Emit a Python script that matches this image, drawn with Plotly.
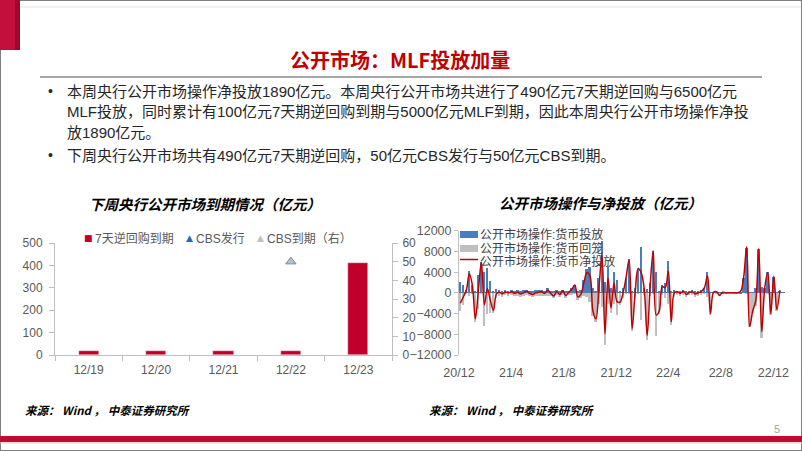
import plotly.graph_objects as go
import pandas as pd

W, H = 802, 451
def px(x): return x / W
def py(y): return 1 - y / H

FONT = "Liberation Sans, Noto Sans CJK SC, sans-serif"

# ---------------- left chart data ----------------
days = ["12/19", "12/20", "12/21", "12/22", "12/23"]
repo_maturity = [20, 20, 20, 20, 410]
cbs_issue_day = ["12/22"]
cbs_issue = [50]
cbs_mat_day = ["12/22"]
cbs_maturity = [50]

# ---------------- right chart data (weekly, 亿元) ----------------
week_start = "2020-12-04"
inject = [
    2100, 1500, 600, 4300, 1500, 500, 3500, 6000, 4000, 4800,
    2300, 500, 800, 600, 500, 600, 500, 600, 500, 600,
    500, 600, 600, 500, 500, 600, 600, 700, 500, 1000,
    500, 400, 600, 500, 700, 500, 500, 900, 1600, 500,
    600, 2500, 4700, 5000, 1000, 500, 3000, 10000, 2200, 5000,
    1000, 4000, 2500, 500, 1000, 3000, 6500, 500, 1000, 4700,
    9000, 1000, 800, 2000, 8200, 4000, 500, 1500, 2000, 6200,
    500, 700, 500, 500, 600, 500, 500, 600, 500, 500,
    600, 1000, 4000, 200, 200, 300, 100, 100, 100, 100,
    100, 100, 100, 300, 3000, 8800, 100, 300, 1000, 8500,
    1200, 1000, 4000, 300, 3200, 200, 500,
]
withdraw = [
    -3500, -2300, -100, -600, -100, -5500, -3000, -100, -6300, -4000,
    -3800, -3900, -1000, -500, -700, -450, -500, -400, -600, -500,
    -700, -600, -300, -600, -800, -600, -500, -500, -600, -500,
    -600, -1000, -400, -800, -300, -1000, -400, -200, -100, -1300,
    -900, -500, -800, -1700, -4500, -5500, -2000, -2700, -10100, -2100,
    -3900, -2100, -4200, -2300, -1000, -100, -100, -7400, -1000, -100,
    -5100, -200, -9000, -500, -100, -8300, -4000, -300, -1000, -2000,
    -6100, -700, -300, -600, -300, -800, -400, -400, -700, -500,
    -300, -100, -700, -4200, -100, -100, -600, 0, -100, -100,
    -100, -100, -100, 0, 0, -100, -6600, -3800, -2500, 0,
    -8700, 0, -100, -4300, 0, -3400, 0,
]
net = [
    -2000, -800, 500, 3700, 1500, -5000, 500, 5900, -2300, 800,
    -1500, -3400, -200, 100, -200, 150, 0, 200, -100, 100,
    -200, 0, 300, -100, -300, 0, 100, 200, -100, 500,
    -100, -600, 200, -300, 400, -500, 100, 700, 1500, -800,
    -300, 2000, 3900, 3300, -3500, -5000, 1000, 7300, -7900, 2900,
    -2900, 1900, -1700, -1800, 0, 3000, 6400, -6900, 0, 4700,
    3900, 800, -8200, 1500, 8100, -4300, -3500, 1200, 1000, 4200,
    -5600, 0, 200, -100, 300, -300, 100, 200, -200, 0,
    300, 1000, 3300, -4000, 100, 200, -500, 100, 0, 0,
    0, 0, 0, 300, 3000, 8900, -6500, -3500, -1500, 8500,
    -7500, 1000, 3900, -4000, 3200, -3200, 500,
]
dates = pd.date_range(week_start, periods=len(net), freq="7D")
right_tickvals = ["2020-12-01", "2021-04-01", "2021-08-01", "2021-12-01",
                  "2022-04-01", "2022-08-01", "2022-12-01"]
right_ticktext = ["20/12", "21/4", "21/8", "21/12", "22/4", "22/8", "22/12"]

BLUE = "#4A7EBB"
GRAY = "#BFBFBF"
RED = "#C00000"
CRIMSON = "#C0002A"

fig = go.Figure()

# left chart
fig.add_trace(go.Bar(x=days, y=repo_maturity, name="7天逆回购到期",
                     marker_color=CRIMSON, width=0.3, xaxis="x", yaxis="y",
                     showlegend=False))
fig.add_trace(go.Scatter(x=cbs_issue_day, y=cbs_issue, name="CBS发行", mode="markers",
                         marker=dict(symbol="triangle-up", size=9, color="#1F6FB5"),
                         xaxis="x", yaxis="y2", showlegend=False))
fig.add_trace(go.Scatter(x=cbs_mat_day, y=cbs_maturity, name="CBS到期（右）", mode="markers",
                         marker=dict(symbol="triangle-up", size=9, color="rgba(200,210,225,0.85)",
                                     line=dict(color="#8C8C8C", width=1)),
                         xaxis="x", yaxis="y2", showlegend=False))

# right chart
wk = 4.5 * 86400000
fig.add_trace(go.Bar(x=dates, y=inject, name="公开市场操作:货币投放", marker_color=BLUE,
                     marker_line_width=0, width=wk, xaxis="x3", yaxis="y3", showlegend=False))
fig.add_trace(go.Bar(x=dates, y=withdraw, name="公开市场操作:货币回笼", marker_color=GRAY,
                     marker_line_width=0, width=wk, xaxis="x3", yaxis="y3", showlegend=False))
fig.add_trace(go.Scatter(x=dates, y=net, name="公开市场操作:货币净投放", mode="lines",
                         line=dict(color=RED, width=1.5, shape="spline", smoothing=1),
                         xaxis="x3", yaxis="y3", showlegend=False))

axis_common = dict(showgrid=False, zeroline=False, showline=True, linecolor="#BFBFBF",
                   ticks="outside", tickcolor="#BFBFBF", ticklen=5, automargin=False,
                   tickfont=dict(family=FONT, size=12, color="#595959"))

fig.update_layout(
    width=W, height=H, autosize=False,
    margin=dict(l=0, r=0, t=0, b=0),
    paper_bgcolor="white", plot_bgcolor="rgba(0,0,0,0)",
    barmode="overlay", bargap=0,
    font=dict(family=FONT, color="#262626"),
    xaxis=dict(domain=[px(55), px(392)], type="category", range=[-0.5, 4.5],
               tickson="boundaries", anchor="y", ticklabelstandoff=4, **axis_common),
    yaxis=dict(domain=[py(355), py(243)], range=[0, 500], dtick=100, anchor="x",
               ticklabelstandoff=4, **axis_common),
    yaxis2=dict(overlaying="y", side="right", range=[0, 60], dtick=10, anchor="x",
                ticklabelstandoff=2, **axis_common),
    xaxis3=dict(domain=[px(459), px(785)], type="date",
                range=["2020-12-01", "2022-12-28"],
                tickmode="array", tickvals=right_tickvals, ticktext=right_ticktext,
                showgrid=False, zeroline=False, showline=False, ticks="outside",
                ticklen=6, tickcolor="rgba(0,0,0,0)", automargin=False,
                tickfont=dict(family=FONT, size=12.5, color="#595959"), anchor="y3"),
    yaxis3=dict(domain=[py(355), py(230.7)], range=[-12000, 12000], dtick=4000,
                tickformat="d", automargin=False,
                showgrid=False, zeroline=True, zerolinecolor="#6F6F6F", zerolinewidth=1,
                showline=True, linecolor="#BFBFBF", ticks="outside", tickcolor="#BFBFBF",
                ticklen=4, tickfont=dict(family=FONT, size=12.5, color="#595959"),
                anchor="x3"),
)

shapes = []
# slide frame
shapes.append(dict(type="rect", xref="paper", yref="paper", x0=0, x1=1, y0=0, y1=1,
                   line=dict(color="#7F7F7F", width=2), fillcolor="rgba(0,0,0,0)"))
shapes.append(dict(type="line", xref="paper", yref="paper", x0=px(20), x1=px(801),
                   y0=py(7), y1=py(7), line=dict(color="#E3E3E3", width=1)))
# red corner block
shapes.append(dict(type="rect", xref="paper", yref="paper", x0=0, x1=px(15), y0=py(50), y1=1,
                   line=dict(width=0), fillcolor="#C20F3C"))
shapes.append(dict(type="rect", xref="paper", yref="paper", x0=px(15), x1=px(20), y0=py(50), y1=1,
                   line=dict(width=0), fillcolor="#A0062A"))
# rule under title
shapes.append(dict(type="line", xref="paper", yref="paper", x0=px(40), x1=px(762),
                   y0=py(77), y1=py(77), line=dict(color="#A6A6A6", width=2)))
# bottom red band
shapes.append(dict(type="rect", xref="paper", yref="paper", x0=0, x1=1, y0=py(442), y1=py(436),
                   line=dict(width=0), fillcolor="#C00A30"))
shapes.append(dict(type="line", xref="paper", yref="paper", x0=0, x1=1, y0=py(443), y1=py(443),
                   line=dict(color="#F2C4CE", width=1)))
# right-chart legend swatches
shapes.append(dict(type="rect", xref="paper", yref="paper", x0=px(460), x1=px(478),
                   y0=py(238), y1=py(231), line=dict(width=0), fillcolor=BLUE))
shapes.append(dict(type="rect", xref="paper", yref="paper", x0=px(460), x1=px(478),
                   y0=py(252), y1=py(245), line=dict(width=0), fillcolor=GRAY))
shapes.append(dict(type="line", xref="paper", yref="paper", x0=px(460), x1=px(478),
                   y0=py(259.5), y1=py(259.5), line=dict(color=RED, width=1.5)))
fig.update_layout(shapes=shapes)

ann = []
def text(x, y, s, size, color="#262626", xanchor="left", family=FONT):
    ann.append(dict(x=px(x), y=py(y), xref="paper", yref="paper", text=s, showarrow=False,
                    xanchor=xanchor, yanchor="middle",
                    font=dict(family=family, size=size, color=color)))

# slide title
text(400, 59, "<b>公开市场：MLF投放加量</b>", 20, "#C00000", "center",
     "Noto Sans CJK SC, Liberation Sans")

# bullets
bullet_lines = [
    (91, True, "本周央行公开市场操作净投放1890亿元。本周央行公开市场共进行了490亿元7天期逆回购与6500亿元"),
    (112, False, "MLF投放，同时累计有100亿元7天期逆回购到期与5000亿元MLF到期，因此本周央行公开市场操作净投"),
    (132, False, "放1890亿元。"),
    (155, True, "下周央行公开市场共有490亿元7天期逆回购，50亿元CBS发行与50亿元CBS到期。"),
]
for y, has_bullet, s in bullet_lines:
    if has_bullet:
        text(50, y, "•", 14, "#262626", "center")
    text(65, y, s, 15, "#262626")

# chart titles
text(205, 203, "<b><i>下周央行公开市场到期情况（亿元）</i></b>", 14.5, "#000000", "center",
     "Noto Sans CJK SC")
text(600, 202, "<b><i>公开市场操作与净投放（亿元）</i></b>", 14.5, "#000000", "center",
     "Noto Sans CJK SC")

# left legend
text(88.5, 238, "■", 9, CRIMSON, "center", "DejaVu Sans")
text(93, 238, "7天逆回购到期", 12, "#595959")
text(189, 238, "▲", 9, "#1F6FB5", "center", "DejaVu Sans")
text(194, 238, "CBS发行", 12, "#595959")
text(260, 238, "▲", 9, GRAY, "center", "DejaVu Sans")
text(265, 238, "CBS到期（右）", 12, "#595959")

# right legend
text(478, 234.5, "公开市场操作:货币投放", 12, "#404040")
text(478, 248.5, "公开市场操作:货币回笼", 12, "#404040")
text(478, 261.5, "公开市场操作:货币净投放", 12, "#404040")

# sources
text(23, 410, "<b><i>来源： Wind ， 中泰证券研究所</i></b>", 11.5, "#000000", "left",
     "Noto Sans CJK SC")
text(427, 410, "<b><i>来源： Wind ， 中泰证券研究所</i></b>", 11.5, "#000000", "left",
     "Noto Sans CJK SC")
# page number
text(777, 429, "5", 11, "#A6A6A6", "center")

fig.update_layout(annotations=ann)
fig.write_html("out.html",
               post_script="document.body.style.margin='0';document.body.style.overflow='hidden';")
